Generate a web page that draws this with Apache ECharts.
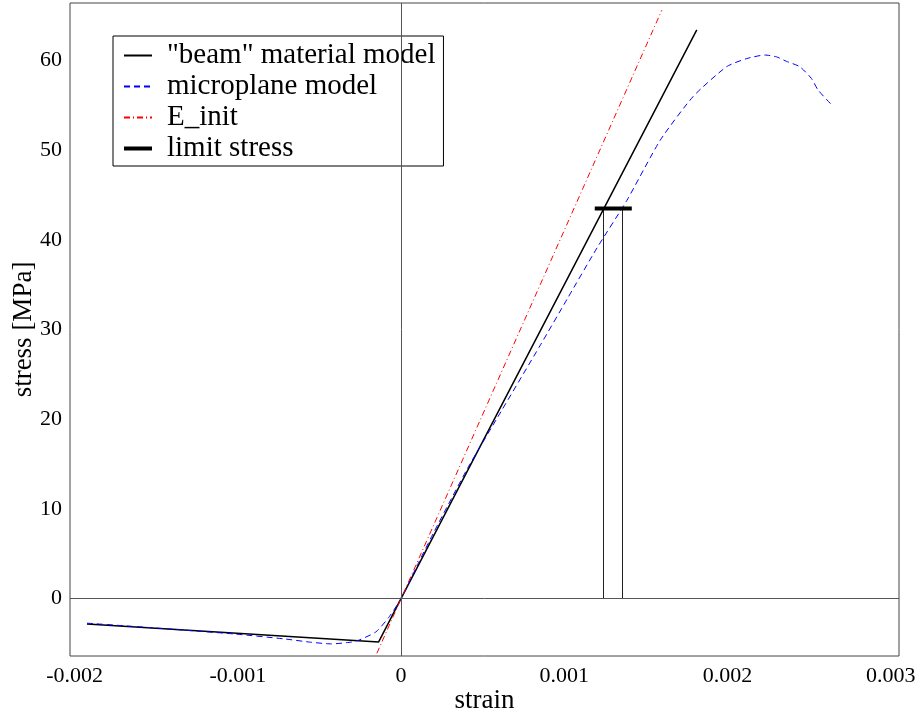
<!DOCTYPE html>
<html>
<head>
<meta charset="utf-8">
<script src="https://cdn.jsdelivr.net/npm/echarts@6/dist/echarts.min.js"></script>
<style>
    html, body {margin: 0; padding: 0; background: #fff;}
    #chart {width: 918px; height: 715px;}
</style>
</head>
<body>
<div id="chart"></div>
<script>
// 数据 (strain, stress [MPa])
const beamData = [[-0.001924, -2.82], [-0.000137, -4.83], [0, 0], [0.001812, 63.4]]
const microplaneData = [
    [-0.001924, -2.74], [-0.001527, -3.25], [-0.001018, -3.95], [-0.000712, -4.5], [-0.00056, -4.85],
    [-0.000427, -5.05], [-0.000305, -4.85], [-0.000254, -4.6], [-0.000153, -3.7], [-0.000071, -2.0],
    [0, 0], [0.000102, 3.8], [0.000204, 7.5], [0.000407, 14.5], [0.000611, 20.8], [0.000855, 28.3],
    [0.001018, 33.4], [0.001201, 39.1], [0.001384, 44.4], [0.001588, 51.1], [0.001791, 56.0],
    [0.001995, 59.3], [0.002117, 60.2], [0.002229, 60.6], [0.0023, 60.4], [0.002361, 59.9],
    [0.002443, 59.3], [0.002514, 58.0], [0.002555, 56.7], [0.002646, 54.9]
]
const eInitData = [[-0.000148, -6.1], [0.001598, 65.6]]
const limitStressData = [[0.001187, 43.5], [0.001414, 43.5]]
const limitStrainLines = [
    [[0.001242, 0], [0.001242, 43.5]],
    [[0.001358, 0], [0.001358, 43.5]]
]
const xTicks = [-0.002, -0.001, 0, 0.001, 0.002, 0.003]
const yTicks = [0, 10, 20, 30, 40, 50, 60]

const FONT = 'Liberation Serif'
let chart = echarts.init(document.getElementById('chart'))

const option = {
    animation: false,
    grid: {
        left: 70,
        right: 19,
        top: 3,
        bottom: 59,
        containLabel: false,
        outerBoundsMode: 'none',
        show: true,
        borderColor: '#444',
        borderWidth: 1
    },
    legend: {
        orient: 'vertical',
        left: 113,
        top: 36,
        data: [
            '"beam" material model',
            'microplane model',
            'E_init',
            {name: 'limit stress', lineStyle: {width: 4}}
        ],
        backgroundColor: '#fff',
        borderColor: '#000',
        borderWidth: 1,
        padding: [5, 8, 3, 9],
        itemWidth: 28,
        itemHeight: 14,
        itemGap: 2,
        itemStyle: {opacity: 0},
        textStyle: {
            fontFamily: FONT,
            fontSize: 29,
            color: '#000',
            padding: [0, 0, 0, 10]
        }
    },
    xAxis: {
        type: 'value',
        min: -0.002028,
        max: 0.003051,
        name: 'strain',
        nameLocation: 'center',
        nameGap: 31,
        nameMoveOverlap: false,
        nameTextStyle: {fontFamily: FONT, fontSize: 27, color: '#000'},
        axisLine: {show: false},
        axisTick: {show: false},
        splitLine: {show: false},
        axisLabel: {
            fontFamily: FONT,
            fontSize: 22,
            color: '#000',
            margin: 9,
            customValues: xTicks,
            formatter: v => String(+v.toFixed(3))
        }
    },
    yAxis: {
        type: 'value',
        min: -6.4,
        max: 66.4,
        name: 'stress [MPa]',
        nameLocation: 'center',
        nameGap: 33,
        nameMoveOverlap: false,
        nameTextStyle: {fontFamily: FONT, fontSize: 27, color: '#000'},
        axisLine: {show: false},
        axisTick: {show: false},
        splitLine: {show: false},
        axisLabel: {
            fontFamily: FONT,
            fontSize: 22,
            color: '#000',
            margin: 8,
            customValues: yTicks
        }
    },
    series: [
        {
            name: 'axes zero',
            type: 'line',
            data: [],
            silent: true,
            markLine: {
                silent: true,
                symbol: 'none',
                label: {show: false},
                lineStyle: {color: '#555', width: 1, type: 'solid'},
                data: [{xAxis: 0}, {yAxis: 0}]
            }
        },
        {
            name: 'limit strain',
            type: 'lines',
            coordinateSystem: 'cartesian2d',
            silent: true,
            lineStyle: {color: '#222', width: 1, opacity: 1},
            data: limitStrainLines.map(c => ({coords: c}))
        },
        {
            name: '"beam" material model',
            type: 'line',
            data: beamData,
            symbol: 'none',
            lineStyle: {color: '#000', width: 1.5},
            itemStyle: {color: '#000'}
        },
        {
            name: 'microplane model',
            type: 'line',
            data: microplaneData,
            symbol: 'none',
            smooth: 0.2,
            lineStyle: {color: '#0000ff', width: 1, type: [6, 4]},
            itemStyle: {color: '#0000ff'}
        },
        {
            name: 'E_init',
            type: 'line',
            data: eInitData,
            symbol: 'none',
            lineStyle: {color: '#ff0000', width: 1, type: [6, 3, 1, 3]},
            itemStyle: {color: '#ff0000'}
        },
        {
            name: 'limit stress',
            type: 'line',
            data: limitStressData,
            symbol: 'none',
            lineStyle: {color: '#000', width: 4},
            itemStyle: {color: '#000'}
        }
    ]
}
chart.setOption(option)
</script>
</body>
</html>
